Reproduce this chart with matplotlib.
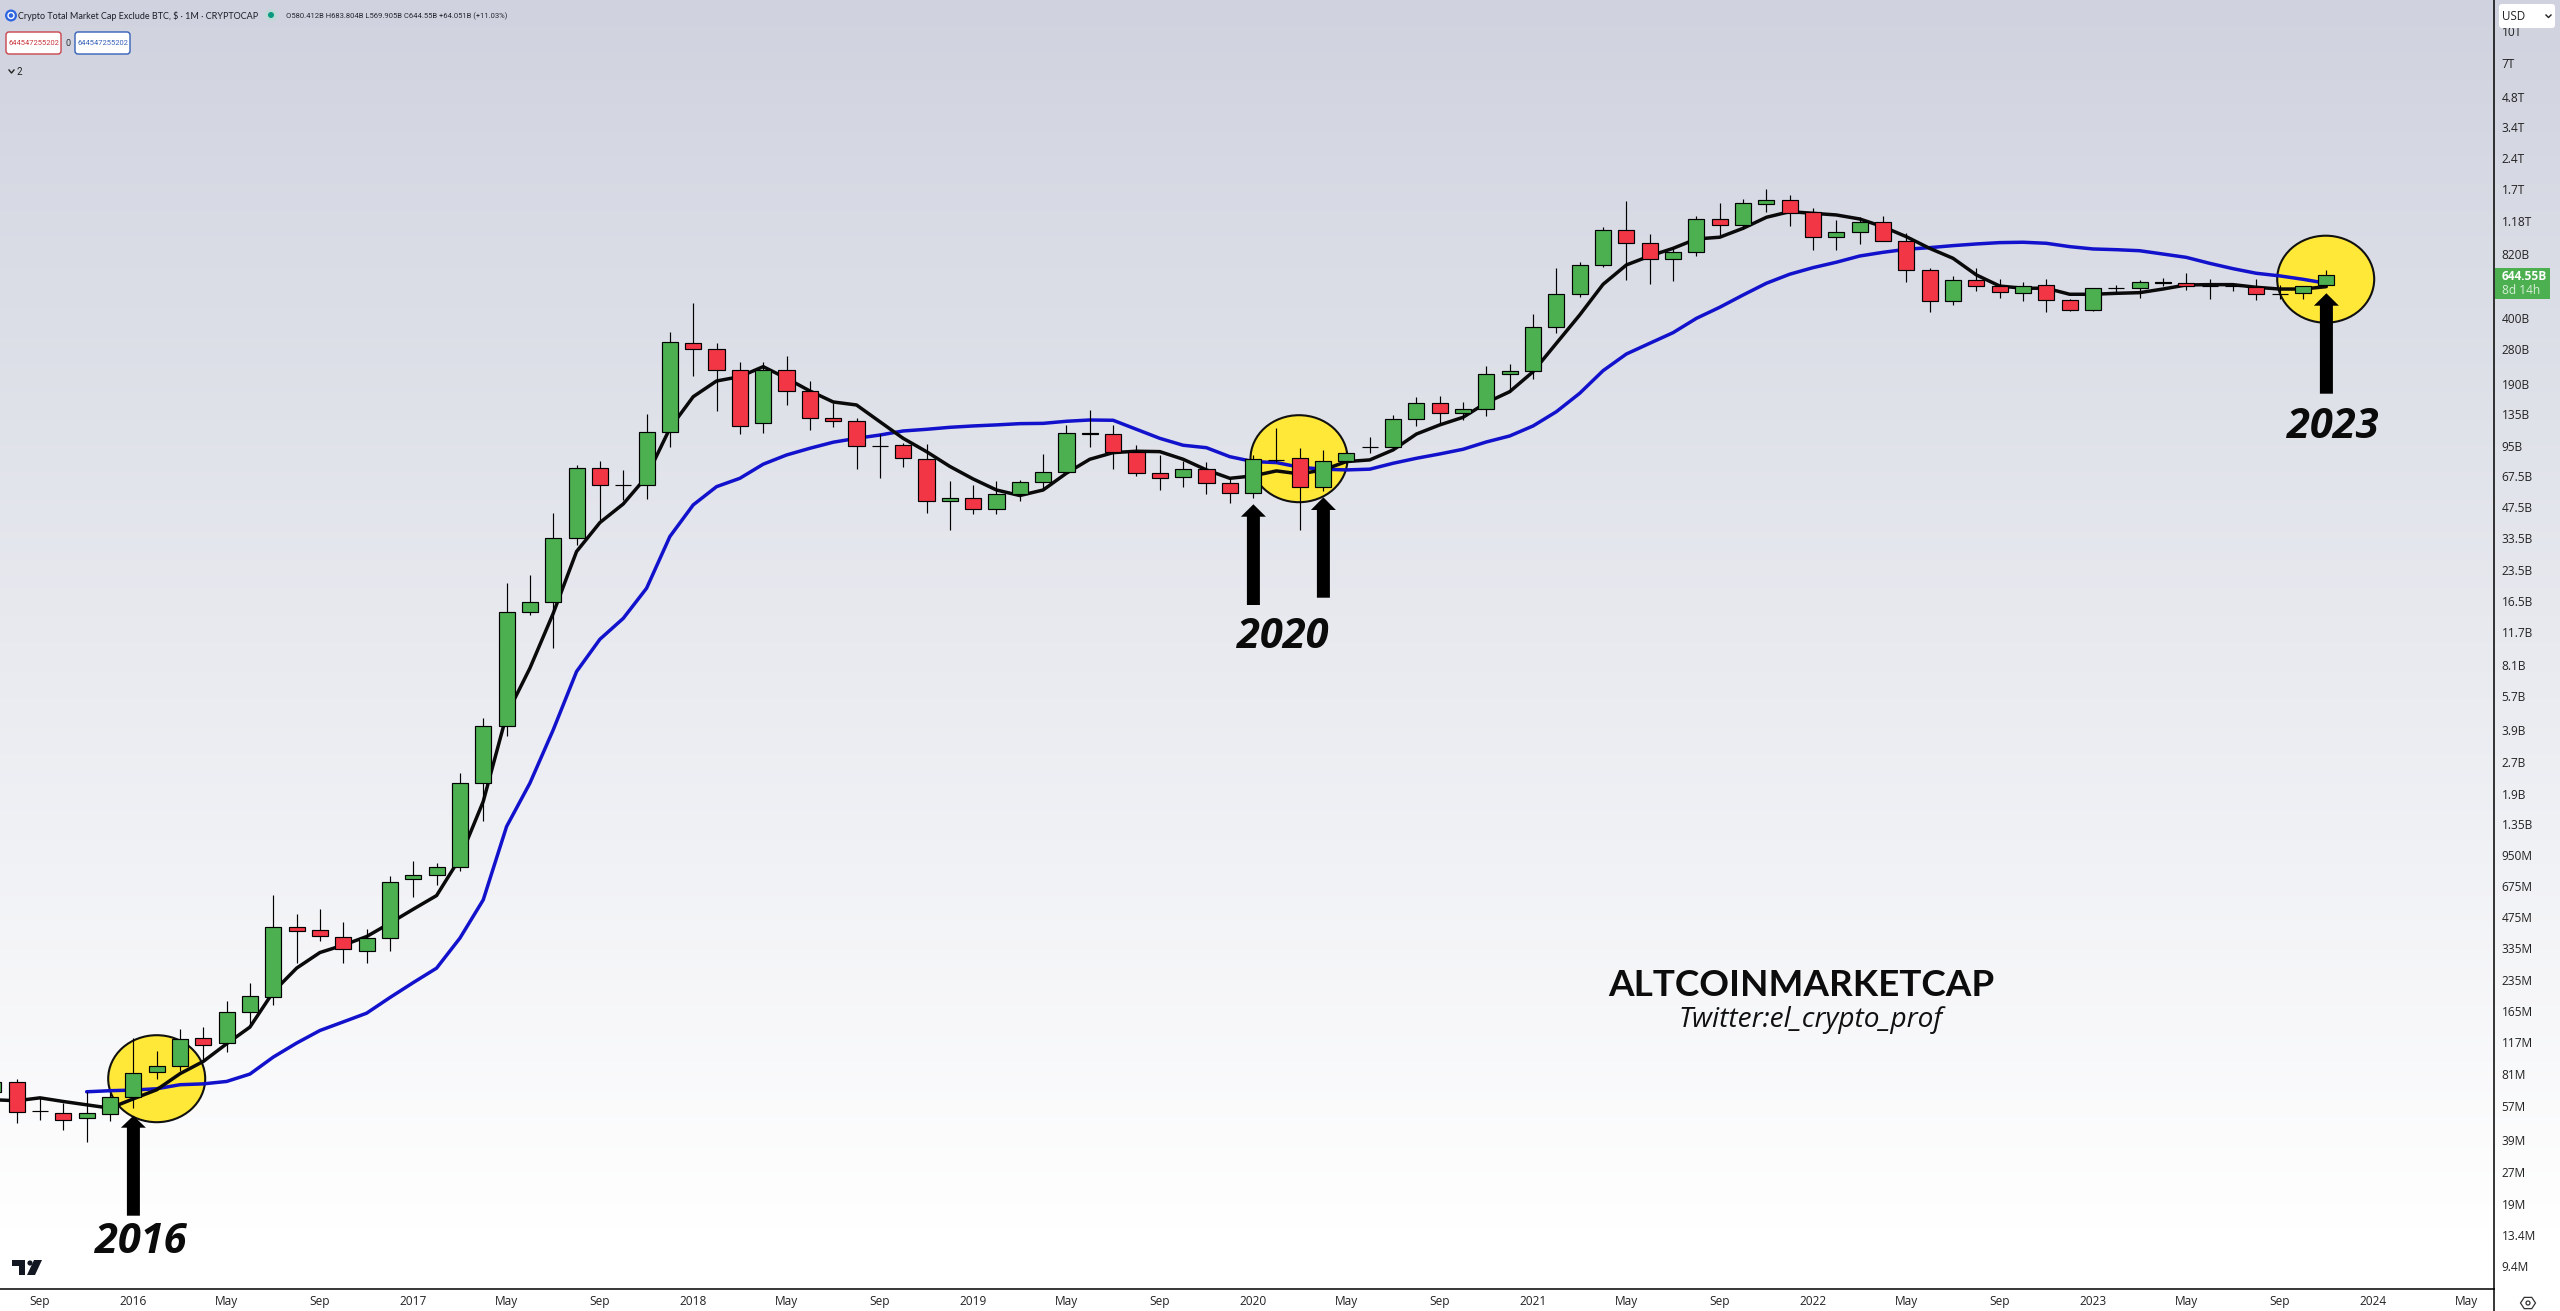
import numpy as np
import matplotlib
matplotlib.use("Agg")
import matplotlib.pyplot as plt
from matplotlib.patches import Circle, Ellipse, FancyBboxPatch, Polygon, Rectangle

# all prices in billions of USD, one row per monthly candle, from Jul 2015 (month -6)
first_month = -6

candle_open = [
    0.0667, 0.0744, 0.0535, 0.0525, 0.0496, 0.0519, 0.0629, 0.0832, 0.0890, 0.122,
    0.1153, 0.163, 0.1944, 0.424, 0.410, 0.379, 0.324, 0.375, 0.728, 0.761,
    0.833, 2.14, 4.06, 14.6, 16.33, 33.5, 73.7, 60.9, 60.9, 110.4,
    300, 280.5, 221.5, 122, 221.5, 175, 129, 124.9, 95.0, 95.4,
    81.5, 50.9, 52.6, 46.4, 55, 63, 70.4, 108.5, 108, 88.2,
    69.7, 66.6, 72.9, 62.2, 55.6, 80.5, 82.4, 59.5, 79.7, 93.5,
    93.2, 127.8, 152.9, 136.6, 142.9, 211.8, 219.1, 359.2, 520.5, 721,
    1068, 923, 771, 834, 1209, 1130, 1440, 1496, 1308, 988,
    1044, 1168, 944, 682, 481, 609, 569, 526, 576, 486,
    435, 557, 561, 594, 589, 569, 570, 567, 524, 526,
    580.412,
]
candle_high = [
    0.0772, 0.0769, 0.0623, 0.0589, 0.0669, 0.0659, 0.122, 0.1057, 0.1349, 0.138,
    0.185, 0.2268, 0.61, 0.491, 0.519, 0.449, 0.415, 0.755, 0.894, 0.871,
    2.396, 4.44, 20.2, 22.2, 44.4, 76.2, 79.7, 72.3, 135, 341,
    472, 300, 243, 243, 260, 196.4, 152.9, 129, 108, 97.5,
    96.8, 63.9, 61.1, 63.9, 64.4, 86.5, 119.9, 141.8, 119.9, 95.8,
    85.5, 80.2, 79.1, 66, 85.5, 116, 92.2, 90.5, 89, 104.7,
    134, 163.6, 165.9, 155.2, 232.5, 237.8, 415.7, 697, 746, 1108,
    1480, 1022, 875, 1254, 1447, 1514, 1693, 1588, 1368, 1199,
    1236, 1254, 1040, 697, 640, 697, 616, 596, 616, 496,
    445, 576, 611, 623, 659, 618, 582, 616, 578, 554,
    683.804,
]
candle_low = [
    0.0576, 0.0469, 0.0483, 0.0432, 0.0378, 0.0478, 0.0553, 0.0774, 0.0838, 0.0956,
    0.1042, 0.143, 0.1772, 0.285, 0.365, 0.282, 0.285, 0.326, 0.598, 0.6825,
    0.801, 1.402, 3.65, 14.2, 9.73, 31.1, 41.2, 51.6, 52.4, 93.9,
    208.5, 140.7, 108.2, 109.5, 150, 113.3, 117, 73.1, 66, 75,
    44.6, 36.8, 44, 44.3, 51.2, 58.9, 70.4, 93.9, 73.1, 67.8,
    57.7, 59.9, 55, 50.1, 52.8, 79.1, 36.8, 57.1, 78.2, 87.8,
    92.2, 118.8, 122, 126.7, 133.1, 174.2, 201.5, 338, 506.6, 705,
    611, 584, 604, 800, 1012, 1087, 1308, 1121, 856, 856,
    916, 944, 600, 428, 462, 542, 501, 483, 428, 432,
    432, 526, 498, 571, 546, 496, 540, 488, 493, 493,
    569.905,
]
candle_close = [
    0.0747, 0.0531, 0.0537, 0.0483, 0.0525, 0.0629, 0.0823, 0.0890, 0.1206, 0.1127,
    0.1634, 0.1954, 0.424, 0.408, 0.3834, 0.331, 0.375, 0.7036, 0.761, 0.833,
    2.14, 4.06, 14.6, 16.33, 33.5, 73.7, 60.9, 60.9, 110.4, 303.7,
    280.5, 221.5, 118, 221.5, 175, 129, 124.9, 94.3, 95.0, 82.4,
    50.9, 52.6, 46.4, 55, 63, 70.4, 109, 109, 88.2, 69.7,
    65.8, 72.9, 62.2, 55.6, 81.5, 80.9, 59.5, 79.7, 87.1, 93.9,
    127.8, 152.9, 136.6, 142.9, 211.8, 219.1, 359.2, 520.5, 721, 1068,
    923, 771, 834, 1209, 1130, 1447, 1496, 1293, 988, 1044,
    1168, 944, 682, 481, 609, 569, 532, 573, 486, 435,
    557, 559, 596, 596, 569, 569, 571, 520, 524, 573,
    644.55,
]

black_ma = [
    0.0610, 0.0603, 0.0623, 0.0598, 0.0576, 0.0555, 0.0616, 0.0682, 0.0817, 0.0938,
    0.1144, 0.138, 0.205, 0.2676, 0.319, 0.3465, 0.3817, 0.4436, 0.519, 0.605,
    0.921, 1.742, 4.61, 7.79, 14.43, 28.9, 40, 49.3, 67, 115.4,
    164.6, 196.4, 206.2, 230.7, 202.5, 175.6, 155.2, 150, 124.3, 103.1,
    88.8, 75.2, 65.3, 57.7, 54.2, 57.7, 69.7, 81.5, 87.8, 89.2,
    88.8, 81.5, 72.3, 65.8, 67.6, 71.5, 69.1, 72.3, 79.4, 80.9,
    90.5, 108.2, 119.9, 130.6, 154, 174.2, 218, 300, 412.5, 582,
    723.6, 800, 872, 969, 988, 1092, 1236, 1317, 1293, 1269,
    1213, 1112, 994, 872, 780, 647, 571, 557, 557, 520.5,
    520.5, 526, 530, 552, 578, 580, 580, 563, 552, 552,
    567,
]
# blue average only starts in Nov 2015 (month -2)
blue_first_month = -2
blue_ma = [
    0.0667, 0.0675, 0.068, 0.069, 0.0722, 0.0729, 0.0749, 0.0814, 0.0985, 0.1153,
    0.1328, 0.1463, 0.1613, 0.1923, 0.2275, 0.2676, 0.375, 0.5766, 1.314, 2.14,
    3.896, 7.5, 10.78, 13.63, 19.12, 34.2, 48.8, 59.9, 65.8, 77.1,
    85.5, 92.2, 98.7, 103.1, 107, 112, 114.1, 116.7, 118.5, 119.9,
    121.6, 122, 124.9, 126.7, 126.3, 114.1, 103.1, 95.4, 92.8, 83.9,
    79.4, 78.5, 74.5, 72.9, 72.3, 72.9, 77.9, 82.4, 86.5, 91.2,
    99, 105.9, 118.5, 139.1, 171.1, 220.5, 266, 300, 338, 397,
    449.6, 516, 589, 652, 702, 746, 800, 834, 863, 879,
    899, 916, 930, 934, 923, 889, 866, 859, 849, 818,
    788, 737, 694, 659, 640, 616, 589,
]

y_tick_values = [
    10000, 7000, 4800, 3400, 2400, 1700, 1180, 820, 400, 280, 190, 135, 95, 67.5, 47.5,
    33.5, 23.5, 16.5, 11.7, 8.1, 5.7, 3.9, 2.7, 1.9, 1.35, 0.95, 0.675, 0.475, 0.335,
    0.235, 0.165, 0.117, 0.081, 0.057, 0.039, 0.027, 0.019, 0.0134, 0.0094,
]
y_tick_labels = [
    "10T", "7T", "4.8T", "3.4T", "2.4T", "1.7T", "1.18T", "820B", "400B", "280B", "190B",
    "135B", "95B", "67.5B", "47.5B", "33.5B", "23.5B", "16.5B", "11.7B", "8.1B", "5.7B",
    "3.9B", "2.7B", "1.9B", "1.35B", "950M", "675M", "475M", "335M", "235M", "165M",
    "117M", "81M", "57M", "39M", "27M", "19M", "13.4M", "9.4M",
]
x_tick_months = list(range(-4, 101, 4))
x_tick_labels = [
    "Sep", "2016", "May", "Sep", "2017", "May", "Sep", "2018", "May", "Sep", "2019",
    "May", "Sep", "2020", "May", "Sep", "2021", "May", "Sep", "2022", "May", "Sep",
    "2023", "May", "Sep", "2024", "May",
]

W, H = 2560, 1311
GREEN = "#4caf50"
RED = "#f23645"
FONT = "Open Sans"

fig = plt.figure(figsize=(W / 100, H / 100), dpi=100)

# back layer in image pixels: gradient and the yellow circles
back = fig.add_axes([0, 0, 1, 1])
back.set_xlim(0, W)
back.set_ylim(H, 0)
back.axis("off")
top_col = np.array([208, 211, 223]) / 255
grad = np.linspace(0, 1, 400).reshape(-1, 1, 1) * 1.065
grad = np.clip(grad, 0, 1)
back.imshow(top_col + (1 - top_col) * grad, extent=[0, W, H, 0], aspect="auto", zorder=0)
for cx, cy in [(156.7, 1078.7), (1299, 458.7), (2325.7, 279.2)]:
    back.add_patch(Ellipse((cx, cy), 97, 87, fc="#ffe838", ec="#111111", lw=1.5, zorder=1))
back.set_xlim(0, W)
back.set_ylim(H, 0)

# price chart
ax = fig.add_axes([0, 22 / H, 2494 / W, 1289 / H])
ax.patch.set_alpha(0)
ax.set_yscale("log")
months = np.arange(first_month, first_month + len(candle_open))
ax.set_xlim(-5.714, 101.19)
ax.set_ylim(0.00727, 14210)

ax.plot(np.arange(blue_first_month, blue_first_month + len(blue_ma)), blue_ma,
        color="#1212cc", lw=2.5, solid_capstyle="round", zorder=2)
ax.plot(months, black_ma, color="#0a0a0a", lw=2.5, solid_capstyle="round", zorder=3)

o = np.array(candle_open)
c = np.array(candle_close)
up = c >= o
ax.vlines(months, candle_low, candle_high, color="black", lw=0.85, zorder=4)
ax.bar(months, np.abs(c - o), bottom=np.minimum(o, c), width=0.69,
       color=[GREEN if u else RED for u in up], edgecolor="black", linewidth=0.85, zorder=5)

ax.yaxis.tick_right()
ax.set_yticks(y_tick_values)
ax.set_yticklabels(y_tick_labels, fontsize=8.6, family=FONT, color="#222222")
ax.minorticks_off()
ax.set_xticks(x_tick_months)
ax.set_xticklabels(x_tick_labels, fontsize=8.6, family=FONT, color="#222222")
ax.tick_params(axis="both", length=0)
ax.tick_params(axis="y", pad=5.5)
ax.tick_params(axis="x", pad=4.5)
for side in ["top", "left"]:
    ax.spines[side].set_visible(False)
for side in ["right", "bottom"]:
    ax.spines[side].set_linewidth(1.1)

# front layer in image pixels: arrows, notes and the TradingView bits
front = fig.add_axes([0, 0, 1, 1])
front.set_xlim(0, W)
front.set_ylim(H, 0)
front.axis("off")
front.patch.set_alpha(0)


def up_arrow(x, tip, base, bottom):
    pts = [(x - 6.5, bottom), (x - 6.5, base), (x - 12.5, base), (x, tip),
           (x + 12.5, base), (x + 6.5, base), (x + 6.5, bottom)]
    front.add_patch(Polygon(pts, closed=True, fc="black", ec="none"))


up_arrow(133.4, 1115.7, 1127.7, 1215.7)
up_arrow(1253.4, 504.3, 516.7, 605)
up_arrow(1323.4, 497.3, 510, 597.7)
up_arrow(2326.4, 293.3, 305.7, 393.7)

for label, lx, ly in [("2016", 141, 1237.5), ("2020", 1283, 633), ("2023", 2332.5, 423)]:
    front.text(lx, ly, label, fontsize=30, family=FONT, weight="bold", style="italic",
               color="#0b0b0b", ha="center", va="center_baseline")

front.text(1801.5, 982.5, "ALTCOINMARKETCAP", fontsize=26.6, family="Lato", weight="bold",
           color="#0c0c0c", ha="center", va="center_baseline")
front.text(1811, 1016, "Twitter:el_crypto_prof", fontsize=20.2, family=FONT, style="italic",
           weight="medium", color="#101010", ha="center", va="center_baseline")

# header
front.add_patch(Circle((11, 15.5), 6, fc="#2f66e0", ec="none"))
front.add_patch(Circle((11, 15.5), 3, fc="none", ec="white", lw=1))
front.text(18, 16, "Crypto Total Market Cap Exclude BTC, $ · 1M · CRYPTOCAP", fontsize=6.5,
           family="Lato", color="#1c1e26", va="center")
front.add_patch(Circle((271, 15), 6, fc="#bfdad6", ec="none"))
front.add_patch(Circle((271, 15), 3, fc="#089981", ec="none"))
front.text(286, 16, "O580.412B H683.804B L569.905B C644.55B +64.051B (+11.03%)", fontsize=5.5,
           family="Roboto", color="#26282f", va="center")
front.add_patch(FancyBboxPatch((6, 32), 55, 22, boxstyle="round,pad=0,rounding_size=3",
                               fc="white", ec="#c9444c", lw=1))
front.text(33.5, 43.5, "644547255202", fontsize=5.4, family="Roboto", color="#c9343c",
           ha="center", va="center")
front.text(68, 43, "0", fontsize=6.6, family="Roboto", color="#333333", ha="center", va="center")
front.add_patch(FancyBboxPatch((75, 32), 55, 22, boxstyle="round,pad=0,rounding_size=3",
                               fc="white", ec="#3560b8", lw=1))
front.text(102.5, 43.5, "644547255202", fontsize=5.4, family="Roboto", color="#3560b8",
           ha="center", va="center")
front.plot([9, 11.5, 14], [70, 73, 70], color="#222222", lw=1)
front.text(19, 72, "2", fontsize=7, family="Roboto", color="#222222", ha="center", va="center")

# price axis extras
front.plot([2494, 2494], [1289, H], color="black", lw=1.1)
front.add_patch(Rectangle((2494.5, 268), 55.5, 31, fc=GREEN, ec="none"))
front.text(2502, 276.5, "644.55B", fontsize=8.6, family=FONT, weight="bold", color="white",
           va="center")
front.text(2502, 290.5, "8d 14h", fontsize=8.6, family=FONT, color="#d8f0d8", va="center")
front.add_patch(FancyBboxPatch((2499, 4), 56, 24, boxstyle="round,pad=0,rounding_size=3",
                               fc="white", ec="none"))
front.text(2502, 16, "USD", fontsize=8.4, family=FONT, color="#222222", va="center")
front.plot([2546, 2548.5, 2551], [15, 17.5, 15], color="#222222", lw=1)
hex_t = np.deg2rad(np.arange(0, 360, 60))
front.add_patch(Polygon(np.c_[2528 + 7.5 * np.cos(hex_t), 1303 + 6.5 * np.sin(hex_t)],
                        closed=True, fc="none", ec="#333333", lw=0.9))
front.add_patch(Circle((2528, 1303), 2, fc="none", ec="#333333", lw=0.9))

# TradingView logo
logo = "#131722"
front.add_patch(Polygon([(12, 1260), (25, 1260), (25, 1275), (19, 1275), (19, 1266), (12, 1266)],
                        closed=True, fc=logo, ec="none"))
front.add_patch(Circle((30, 1263), 2.6, fc=logo, ec="none"))
front.add_patch(Polygon([(34, 1260), (42, 1260), (35, 1275), (27, 1275)], closed=True,
                        fc=logo, ec="none"))

fig.savefig("out.png", dpi=100)
